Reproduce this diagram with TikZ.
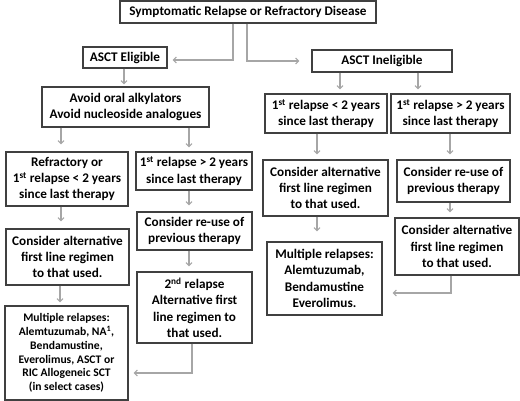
\documentclass[tikz,border=0pt]{standalone}
\usepackage{fontspec}
\setmainfont{Carlito}
\usetikzlibrary{arrows.meta}
\definecolor{boxline}{gray}{0.25}
\definecolor{arrline}{gray}{0.65}
\begin{document}
\begin{tikzpicture}[x=1pt, y=-1pt,
  stepbox/.style={draw=boxline, line width=1.2pt, inner sep=1pt, align=center,
                  font=\fontsize{13.2}{16.3}\selectfont\bfseries},
  smallbox/.style={stepbox, font=\fontsize{11.6}{13.8}\selectfont\bfseries},
  arr/.style={draw=arrline, line width=1.1pt, -{Straight Barb[length=3pt,width=6pt]}},
]
  \useasboundingbox (0,0) rectangle (520,401);

  % Top
  \node[stepbox, minimum width=256, minimum height=22] (start) at (248,12) {Symptomatic Relapse or Refractory Disease};

  % Eligibility
  \node[stepbox, minimum width=84, minimum height=21] (elig) at (125,57.5) {ASCT Eligible};
  \node[stepbox, minimum width=140, minimum height=22] (inelig) at (382,61) {ASCT Ineligible};

  % Eligible branch
  \node[stepbox, minimum width=167, minimum height=40] (avoid) at (125.5,107) {Avoid oral alkylators\\Avoid nucleoside analogues};
  \node[stepbox, minimum width=122, minimum height=54] (refr) at (67,179) {Refractory or\\1\textsuperscript{st} relapse < 2 years\\since last therapy};
  \node[stepbox, minimum width=116, minimum height=38] (lateL) at (194,171) {1\textsuperscript{st} relapse > 2 years\\since last therapy};
  \node[stepbox, minimum width=123, minimum height=56] (altL) at (67.5,257) {Consider alternative\\first line regimen\\to that used.};
  \node[stepbox, minimum width=115, minimum height=38] (reuseL) at (194.5,231) {Consider re-use of\\previous therapy};
  \node[stepbox, minimum width=115, minimum height=71] (second) at (194.5,307.5) {2\textsuperscript{nd} relapse\\Alternative first\\line regimen to\\that used.};
  \node[smallbox, minimum width=123, minimum height=94] (multL) at (66.5,353) {Multiple relapses:\\Alemtuzumab, NA\textsuperscript{1},\\Bendamustine,\\Everolimus, ASCT or\\RIC Allogeneic SCT\\(in select cases)};

  % Ineligible branch
  \node[stepbox, minimum width=122, minimum height=39] (earlyR) at (326,113.5) {1\textsuperscript{st} relapse < 2 years\\since last therapy};
  \node[stepbox, minimum width=119, minimum height=39] (lateR) at (450.5,113.5) {1\textsuperscript{st} relapse > 2 years\\since last therapy};
  \node[stepbox, minimum width=125, minimum height=56] (altM) at (325.5,188) {Consider alternative\\first line regimen\\to that used.};
  \node[stepbox, minimum width=113, minimum height=42] (reuseR) at (453.5,181) {Consider re-use of\\previous therapy};
  \node[stepbox, minimum width=115, minimum height=73] (multM) at (324.5,278.5) {Multiple relapses:\\Alemtuzumab,\\Bendamustine\\Everolimus.};
  \node[stepbox, minimum width=124, minimum height=57] (altR) at (457,246.5) {Consider alternative\\first line regimen\\to that used.};

  % Arrows
  \draw[arr, shorten >=5pt] ([xshift=-15pt]start.south) |- ([yshift=-2.5pt]elig.east);
  \draw[arr, shorten >=12pt] ([xshift=-1pt]start.south) |- (inelig.west);
  \foreach \a/\b/\x/\g in {elig/avoid/124/2, inelig/earlyR/340/4, inelig/lateR/418/4,
                           avoid/refr/61/7, avoid/lateL/189/4, refr/altL/61/7,
                           altL/multL/60/3, lateL/reuseL/189/6, reuseL/second/189/5,
                           earlyR/altM/317/5, lateR/reuseR/450/5, altM/multM/317/10,
                           reuseR/altR/450/5}
    \draw[arr, shorten >=\g pt] (\x,0 |- \a.south) -- (\x,0 |- \b.north);
  \draw[arr, shorten >=5pt] ([xshift=-2.5pt]second.south) |- ([yshift=-20pt]multL.east);
  \draw[arr, shorten >=10pt] ([xshift=-6pt]altR.south) |- ([yshift=-14.5pt]multM.east);
\end{tikzpicture}
\end{document}
